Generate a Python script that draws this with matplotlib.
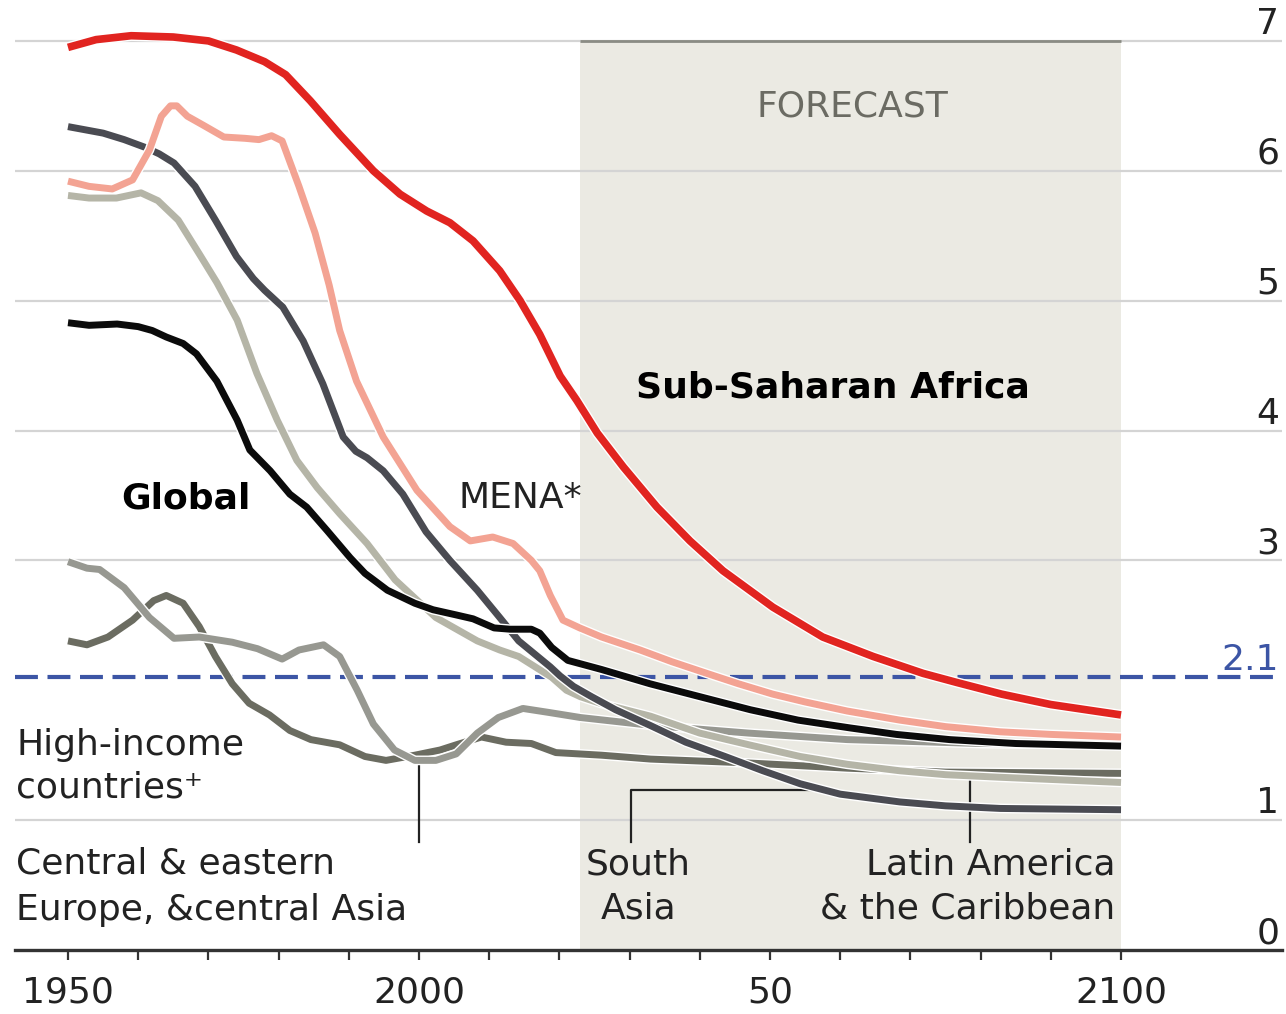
import matplotlib
matplotlib.use("Agg")
import matplotlib.pyplot as plt
import matplotlib.patheffects as pe

# ---------------- DATA ----------------

ssa_years = [1950, 1954, 1959, 1965, 1970, 1974, 1978, 1981, 1984.5, 1988.7,
             1993.5, 1997.3, 2001.1, 2004.4, 2007.7, 2011.5, 2014.4, 2017.2,
             2020.1, 2022.5, 2025.4, 2029.1, 2033.9, 2038.6, 2043.3, 2050.4,
             2057.5, 2064.7, 2071.8, 2076.6, 2083, 2090, 2100]
ssa_tfr = [6.95, 7.01, 7.04, 7.03, 7.00, 6.93, 6.84, 6.74, 6.54, 6.28,
           6.00, 5.82, 5.69, 5.60, 5.46, 5.23, 5.00, 4.74,
           4.42, 4.23, 3.98, 3.72, 3.41, 3.15, 2.92, 2.64,
           2.41, 2.26, 2.13, 2.06, 1.97, 1.89, 1.81]

mena_years = [1950, 1953, 1956.3, 1959.2, 1961.6, 1963.3, 1964.6, 1965.5, 1967,
              1969.3, 1972.2, 1975.2, 1977.2, 1979, 1980.5, 1982.9, 1985.2, 1987.2,
              1988.7, 1991.1, 1994.9, 1999.7, 2004.4, 2007.3, 2010.5, 2013.4, 2016,
              2017.2, 2018.7, 2020.5, 2022.9, 2026, 2031.5, 2036, 2041, 2045.5,
              2050.4, 2055, 2061, 2068.5, 2075, 2082.8, 2090, 2100]
mena_tfr = [5.92, 5.88, 5.86, 5.93, 6.16, 6.42, 6.50, 6.50, 6.42,
            6.35, 6.26, 6.25, 6.24, 6.27, 6.23, 5.88, 5.52, 5.12,
            4.77, 4.38, 3.95, 3.54, 3.26, 3.15, 3.18, 3.13, 3.00,
            2.92, 2.73, 2.54, 2.48, 2.41, 2.31, 2.22, 2.13, 2.05,
            1.97, 1.91, 1.84, 1.77, 1.72, 1.68, 1.66, 1.64]

global_years = [1950, 1953, 1957, 1960, 1962, 1964, 1966.4, 1968.3, 1971.2, 1974.1,
                1975.9, 1978.8, 1981.6, 1984, 1986.9, 1990.2, 1992.3, 1995.5, 1999.4,
                2002, 2005.3, 2007.7, 2010.7, 2013, 2016, 2017.2, 2018.9, 2021.2, 2026,
                2032.9, 2042.9, 2047.2, 2054, 2061.4, 2068, 2075.6, 2085, 2100]
global_tfr = [4.83, 4.81, 4.82, 4.80, 4.77, 4.72, 4.67, 4.59, 4.38, 4.08,
              3.85, 3.69, 3.51, 3.41, 3.23, 3.02, 2.90, 2.77, 2.67,
              2.62, 2.58, 2.55, 2.48, 2.47, 2.47, 2.44, 2.33, 2.23, 2.16,
              2.05, 1.91, 1.85, 1.77, 1.71, 1.66, 1.62, 1.59, 1.57]

sasia_years = [1950, 1955, 1958, 1961, 1963, 1965.1, 1968.1, 1971, 1974, 1976.4,
               1978, 1980.6, 1983.5, 1986.3, 1989.2, 1991, 1992.6, 1994.9, 1997.7,
               2001, 2004.4, 2008.3, 2011.5, 2014.2, 2016, 2018.7, 2020.1, 2022,
               2024.6, 2028, 2032.9, 2038, 2043.6, 2049, 2054.3, 2060, 2068.5,
               2075, 2082.8, 2100]
sasia_tfr = [6.34, 6.29, 6.24, 6.18, 6.13, 6.06, 5.88, 5.62, 5.34, 5.17,
             5.08, 4.95, 4.69, 4.36, 3.95, 3.84, 3.79, 3.69, 3.51,
             3.22, 3.00, 2.77, 2.56, 2.38, 2.30, 2.18, 2.11, 2.03,
             1.95, 1.85, 1.73, 1.60, 1.49, 1.38, 1.28, 1.20, 1.14,
             1.11, 1.09, 1.08]

latam_years = [1950, 1953, 1956.9, 1960.4, 1962.8, 1965.7, 1968.7, 1971.2, 1974.1,
               1976.9, 1979.8, 1982.6, 1985.5, 1988.7, 1992.6, 1996.6, 2002.4, 2008.3,
               2011.5, 2014.2, 2018.9, 2021, 2023, 2025.8, 2033, 2040, 2047, 2054.3,
               2061, 2068.5, 2075, 2082.8, 2100]
latam_tfr = [5.81, 5.79, 5.79, 5.83, 5.77, 5.62, 5.36, 5.14, 4.85,
             4.44, 4.08, 3.77, 3.56, 3.36, 3.13, 2.85, 2.56, 2.38,
             2.31, 2.26, 2.10, 2.00, 1.95, 1.90, 1.80, 1.67, 1.58, 1.49,
             1.43, 1.38, 1.35, 1.33, 1.29]

cee_years = [1950, 1952.7, 1954.5, 1958, 1961.6, 1965.1, 1968.7, 1973.4, 1977, 1980.5,
             1982.9, 1986.4, 1988.7, 1991.2, 1993.5, 1996.5, 1999.4, 2002.4, 2005.3,
             2008.3, 2011.3, 2014.8, 2018.4, 2023, 2033, 2047, 2061, 2080, 2100]
cee_tfr = [2.99, 2.94, 2.93, 2.79, 2.56, 2.40, 2.41, 2.37, 2.32, 2.24,
           2.31, 2.35, 2.26, 2.00, 1.74, 1.54, 1.46, 1.46, 1.51,
           1.67, 1.79, 1.86, 1.83, 1.79, 1.73, 1.67, 1.62, 1.59, 1.58]

hi_years = [1950, 1952.7, 1955.7, 1959.2, 1962.2, 1964, 1966.4, 1968.7, 1971, 1973.4,
            1975.8, 1978.7, 1981.6, 1984.6, 1988.7, 1992.3, 1995.3, 1999.4, 2003,
            2005.3, 2008.9, 2012.4, 2016, 2019.5, 2026, 2033, 2047, 2061, 2075, 2100]
hi_tfr = [2.38, 2.35, 2.41, 2.54, 2.69, 2.73, 2.67, 2.49, 2.26, 2.05,
          1.90, 1.81, 1.69, 1.62, 1.58, 1.49, 1.46, 1.50, 1.54,
          1.58, 1.64, 1.60, 1.59, 1.52, 1.50, 1.47, 1.44, 1.40, 1.37, 1.36]

REPLACEMENT = 2.1
FORECAST_START = 2023
FORECAST_END = 2100

x_ticks = list(range(1950, 2101, 10))
x_labels = {1950: "1950", 2000: "2000", 2050: "50", 2100: "2100"}
y_ticks = [0, 1, 2.1, 3, 4, 5, 6, 7]
y_labels = ["0", "1", "2.1", "3", "4", "5", "6", "7"]

# ---------------- STYLE ----------------

plt.rcParams["font.family"] = ["DejaVu Sans"]
FS = 26

RED = "#e12420"
SALMON = "#f3a393"
DARK = "#4a4b52"
BEIGE = "#b5b5a7"
BLACK = "#0b0b0b"
MIDGREY = "#979891"
OLIVE = "#6b6c61"
BLUE = "#3c55a5"
SHADE = "#ebeae3"
TEXT = "#222222"

fig = plt.figure(figsize=(12.86, 10.14), dpi=100)
ax = fig.add_axes([15 / 1286, 64 / 1014, 1267 / 1286, 950 / 1014])

ax.set_xlim(1942.45, 2122.93)
ax.set_ylim(0, 7.315)

# forecast panel
ax.fill_between([FORECAST_START, FORECAST_END], 0, 7, color=SHADE, lw=0, zorder=0)
ax.plot([FORECAST_START, FORECAST_END], [7, 7], color="#8a8c84", lw=2, zorder=1,
        solid_capstyle="butt")

# gridlines
for g in [1, 3, 4, 5, 6, 7]:
    ax.axhline(g, color="#d4d4d4", lw=1.6, zorder=0.5)

ax.axhline(REPLACEMENT, color=BLUE, lw=3, dashes=(5.5, 2.3), zorder=1.5)


def draw(years, vals, color, lw=5, z=2):
    ax.plot(years, vals, color=color, lw=lw, zorder=z, solid_capstyle="butt",
            solid_joinstyle="round",
            path_effects=[pe.Stroke(linewidth=lw + 2, foreground="white"), pe.Normal()])


draw(hi_years, hi_tfr, OLIVE, z=2)
draw(cee_years, cee_tfr, MIDGREY, z=2.1)
draw(latam_years, latam_tfr, BEIGE, z=2.2)
draw(sasia_years, sasia_tfr, DARK, z=2.3)
draw(global_years, global_tfr, BLACK, z=2.4)
draw(mena_years, mena_tfr, SALMON, z=2.5)
draw(ssa_years, ssa_tfr, RED, lw=5.5, z=2.6)

# leader lines
ax.plot([2000, 2000], [0.83, 1.45], color=TEXT, lw=1.6, zorder=1.8)
ax.plot([2030.2, 2030.2, 2057], [0.83, 1.23, 1.23], color=TEXT, lw=1.6, zorder=1.8)
ax.plot([2078.5, 2078.5], [0.83, 1.32], color=TEXT, lw=1.6, zorder=1.8)

# labels (multi-line texts: y is the baseline of the last line)
ax.text(2059, 4.254, "Sub-Saharan Africa", fontsize=FS, fontweight="bold",
        color="black", ha="center", va="baseline", zorder=5)
ax.text(1966.8, 3.40, "Global", fontsize=FS, fontweight="bold", color="black",
        ha="center", va="baseline", zorder=5)
ax.text(2014.4, 3.40, "MENA*", fontsize=FS, color=TEXT, ha="center",
        va="baseline", zorder=5)
ax.text(2061.7, 6.415, "FORECAST", fontsize=FS, color="#6b6b63", ha="center",
        va="baseline", zorder=5)
ax.text(1942.6, 1.177, "High-income\ncountries\u207a", fontsize=FS, color=TEXT,
        ha="left", va="baseline", linespacing=1.31, zorder=5)
ax.text(1942.6, 0.231, "Central & eastern\nEurope, &central Asia", fontsize=FS,
        color=TEXT, ha="left", va="baseline", linespacing=1.47, zorder=5)
ax.text(2031.2, 0.246, "South\nAsia", fontsize=FS, color=TEXT, ha="center",
        va="baseline", linespacing=1.34, multialignment="center", zorder=5)
ax.text(2099.2, 0.246, "Latin America\n& the Caribbean", fontsize=FS, color=TEXT,
        ha="right", va="baseline", linespacing=1.34, multialignment="right", zorder=5)

# axes
for s in ["left", "right", "top"]:
    ax.spines[s].set_visible(False)
ax.spines["bottom"].set_color("#333333")
ax.spines["bottom"].set_linewidth(2.4)
ax.spines["bottom"].set_zorder(3)

ax.set_xticks(x_ticks)
ax.set_xticklabels([x_labels.get(t, "") for t in x_ticks])
ax.tick_params(axis="x", length=7.5, width=1.6, color="#333333", pad=11,
               labelsize=FS, labelcolor=TEXT)

ax.set_yticks(y_ticks)
ax.set_yticklabels(y_labels)
ax.yaxis.tick_right()
ax.tick_params(axis="y", length=0, pad=-2, labelsize=FS, labelcolor=TEXT)
for lab in ax.get_yticklabels():
    lab.set_horizontalalignment("right")
    lab.set_verticalalignment("bottom")
ax.get_yticklabels()[2].set_color(BLUE)

fig.savefig("out.png", dpi=100)
